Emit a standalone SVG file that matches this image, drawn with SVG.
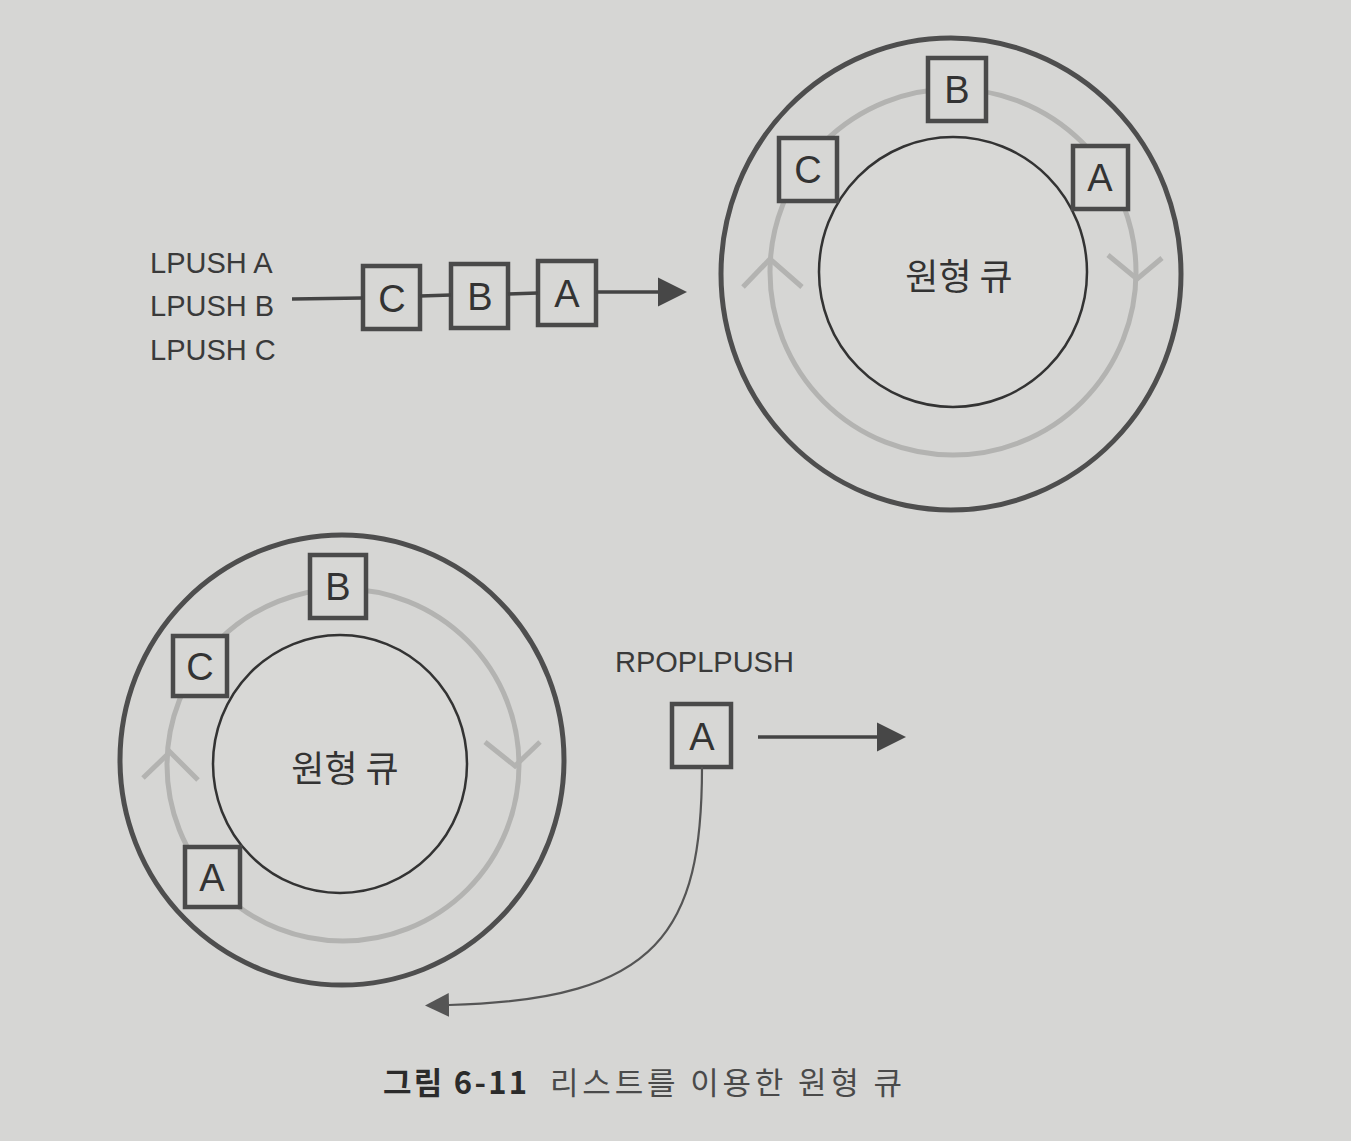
<svg xmlns="http://www.w3.org/2000/svg" width="1351" height="1141" viewBox="0 0 1351 1141">
  <style>
    .bg { fill: #d6d6d4; }
    .outer { fill: none; stroke: #4e4e4e; stroke-width: 5; }
    .inner { fill: #d8d8d6; stroke: #333333; stroke-width: 2.5; }
    .track { fill: none; stroke: #b3b3b1; stroke-width: 5; }
    .chev { fill: none; stroke: #b3b3b1; stroke-width: 5; stroke-linecap: butt; stroke-linejoin: miter; }
    .box { fill: #d7d7d5; stroke: #4a4a4a; stroke-width: 4.5; }
    .boxtxt { font-family: "Liberation Sans", Arial, sans-serif; font-size: 38px; fill: #333333; text-anchor: middle; }
    .cmd { font-family: "Liberation Sans", Arial, sans-serif; font-size: 29px; fill: #3a3a3a; }
    .ko { font-family: "Noto Sans CJK KR", "Noto Sans", sans-serif; font-size: 36px; fill: #333333; text-anchor: middle; }
    .cap { font-family: "Noto Sans CJK KR", "Noto Sans", sans-serif; font-size: 31px; }
    .conn { fill: none; stroke: #444444; stroke-width: 3.5; }
    .thin { fill: none; stroke: #555555; stroke-width: 2.2; }
  </style>
  <defs>
    <marker id="arrow" viewBox="0 0 10 10" refX="0" refY="5" markerUnits="userSpaceOnUse" markerWidth="29" markerHeight="33" orient="auto">
      <path d="M0,0 L10,5 L0,10 z" fill="#474747"/>
    </marker>
    <marker id="arrowSmall" viewBox="0 0 10 10" refX="0" refY="5" markerUnits="userSpaceOnUse" markerWidth="24" markerHeight="25" orient="auto">
      <path d="M0,0 L10,5 L0,10 z" fill="#555555"/>
    </marker>
  </defs>

  <rect class="bg" x="0" y="0" width="1351" height="1141"/>

  <!-- Top circular queue -->
  <g id="queue-top">
    <ellipse class="outer" cx="951" cy="274" rx="230" ry="236"/>
    <circle class="track" cx="953" cy="272" r="183"/>
    <polyline class="chev" points="743,287 770,259 802,287"/>
    <polyline class="chev" points="1108,255 1137,279 1162,258"/>
    <ellipse class="inner" cx="953" cy="272" rx="134" ry="135"/>
    <text class="ko" x="959" y="290">원형 큐</text>
  </g>
  <g id="top-B"><rect class="box" x="928" y="58" width="58" height="63"/><text class="boxtxt" x="957" y="103">B</text></g>
  <g id="top-C"><rect class="box" x="779" y="138" width="58" height="63"/><text class="boxtxt" x="808" y="183">C</text></g>
  <g id="top-A"><rect class="box" x="1073" y="146" width="55" height="63"/><text class="boxtxt" x="1100" y="191">A</text></g>

  <!-- Commands -->
  <g id="lpush-cmds">
    <text class="cmd" x="150" y="273">LPUSH A</text>
    <text class="cmd" x="150" y="316">LPUSH B</text>
    <text class="cmd" x="150" y="360">LPUSH C</text>
  </g>

  <!-- Chain boxes -->
  <g id="chain-C"><rect class="box" x="363" y="266" width="57" height="63"/><text class="boxtxt" x="392" y="312">C</text></g>
  <g id="chain-B"><rect class="box" x="451" y="264" width="57" height="64"/><text class="boxtxt" x="480" y="310">B</text></g>
  <g id="chain-A"><rect class="box" x="538" y="261" width="58" height="64"/><text class="boxtxt" x="567" y="307">A</text></g>

  <!-- Bottom circular queue -->
  <g id="queue-bottom">
    <ellipse class="outer" cx="342" cy="760" rx="222" ry="225"/>
    <circle class="track" cx="343" cy="765" r="176"/>
    <polyline class="chev" points="143,778 170,752 198,780"/>
    <polyline class="chev" points="485,742 515,766 540,742"/>
    <ellipse class="inner" cx="340" cy="764" rx="127" ry="129"/>
    <text class="ko" x="345" y="782">원형 큐</text>
  </g>
  <g id="bot-B"><rect class="box" x="310" y="555" width="56" height="63"/><text class="boxtxt" x="338" y="600">B</text></g>
  <g id="bot-C"><rect class="box" x="173" y="636" width="54" height="60"/><text class="boxtxt" x="200" y="680">C</text></g>
  <g id="bot-A"><rect class="box" x="185" y="847" width="55" height="60"/><text class="boxtxt" x="212" y="891">A</text></g>

  <!-- RPOPLPUSH -->
  <g id="rpoplpush-label">
    <text class="cmd" x="615" y="672">RPOPLPUSH</text>
  </g>
  <g id="popped-A"><rect class="box" x="672" y="704" width="59" height="63"/><text class="boxtxt" x="702" y="750">A</text></g>

  <!-- Connectors -->
  <g id="connectors">
    <line class="conn" x1="292" y1="299" x2="363" y2="298"/>
    <line class="conn" x1="420" y1="296" x2="451" y2="295"/>
    <line class="conn" x1="508" y1="294" x2="538" y2="293"/>
    <line class="conn" x1="596" y1="292" x2="658" y2="292" marker-end="url(#arrow)"/>
    <line class="conn" x1="758" y1="737" x2="877" y2="737" stroke-width="3" marker-end="url(#arrow)"/>
    <path class="thin" d="M702,767 C702,930 660,1000 449,1005" marker-end="url(#arrowSmall)"/>
  </g>

  <!-- Caption -->
  <g id="caption">
    <text class="cap" x="383" y="1094" font-weight="bold" fill="#2b2b2b" textLength="144" lengthAdjust="spacing">그림 6-11</text>
    <text class="cap" x="550" y="1094" fill="#4a4a4a" textLength="352" lengthAdjust="spacing">리스트를 이용한 원형 큐</text>
  </g>
</svg>
